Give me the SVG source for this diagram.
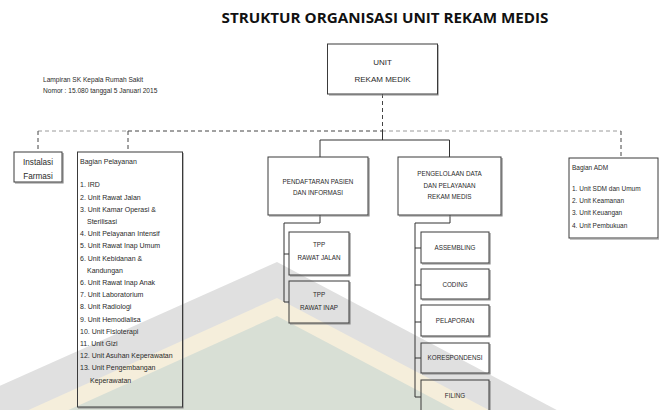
<svg xmlns="http://www.w3.org/2000/svg" width="659" height="410" viewBox="0 0 659 410">
<style>
.box{fill:none;stroke:#3a3a3a;stroke-width:1}
.sh{fill:none;stroke:#8a8a8a;stroke-width:1.2}
.t{font-family:"Liberation Sans",Arial,sans-serif;fill:#2a2a2a}
.ttl{font-family:"Open Sans","Liberation Sans",sans-serif;font-weight:bold;font-size:15px;fill:#111;text-anchor:middle}
.c{text-anchor:middle}
.s8{font-size:8px}
.s7{font-size:7px}
.s6{font-size:6.3px}
.ln{fill:none;stroke:#333;stroke-width:1}
.dd{fill:none;stroke:#444;stroke-width:1;stroke-dasharray:4 3}
.dl{fill:none;stroke:#9a9a9a;stroke-width:1;stroke-dasharray:4 3}
</style>
<rect width="659" height="410" fill="#ffffff"/>
<g id="watermark">
<polygon points="277,262 570,417 -70,417" fill="#e0e0e0"/>
<polygon points="277,298 502,417 13,417" fill="#f5eedb"/>
<polygon points="277,316 468,417 53,417" fill="#d8dfd5"/>
</g>
<text class="ttl" x="385" y="23" textLength="327" lengthAdjust="spacingAndGlyphs">STRUKTUR ORGANISASI UNIT REKAM MEDIS</text>
<g id="note">
<text class="t" x="43" y="82" font-size="6.6">Lampiran SK Kepala Rumah Sakit</text>
<text class="t" x="43" y="92.5" font-size="6.6">Nomor : 15.080 tanggal 5 Januari 2015</text>
</g>
<g id="connectors">
<path class="dd" d="M382.5 94 V130" stroke-dasharray="6 4"/>
<path class="dl" d="M38 131 H128"/>
<path class="dd" d="M128 131 H382"/>
<path class="dl" d="M382 131 H621"/>
<path class="dd" d="M38 131 V150"/>
<path class="dd" d="M128 131 V152"/>
<path class="dd" d="M621 131 V158"/>
<path class="ln" d="M382.5 130 V140 M320 157 V140 H449.5 V157"/>
<path class="ln" d="M320 215 V223 H284 V302 H289 M284 254 H289"/>
<path class="ln" d="M450 215 V223 H415 V397 H421 M415 248 H421 M415 285 H421 M415 322 H421 M415 358 H421"/>
</g>
<g id="unit-rekam-medik">
<path class="sh" d="M438 45 V95 H329"/>
<rect class="box" x="327.5" y="44" width="110" height="50"/>
<text class="t s8 c" x="382.5" y="65">UNIT</text>
<text class="t s8 c" x="382.5" y="81.5">REKAM MEDIK</text>
</g>
<g id="instalasi-farmasi">
<path class="sh" d="M63 153 V183 H15"/>
<rect class="box" x="14" y="152" width="48" height="30"/>
<text class="t c" x="38" y="165" font-size="8.2">Instalasi</text>
<text class="t c" x="38" y="178.5" font-size="8.2">Farmasi</text>
</g>
<g id="bagian-pelayanan">
<path class="sh" d="M183 153 V408 H78"/>
<rect class="box" x="77.5" y="152" width="105" height="255"/>
<text class="t s7" x="80" y="163.5">Bagian Pelayanan</text>
<text class="t s7" x="80" y="187.4">1. IRD</text>
<text class="t s7" x="80" y="199.6">2. Unit Rawat Jalan</text>
<text class="t s7" x="80" y="211.8">3. Unit Kamar Operasi &amp;</text>
<text class="t s7" x="87" y="224">Sterilisasi</text>
<text class="t s7" x="80" y="236.2">4. Unit Pelayanan Intensif</text>
<text class="t s7" x="80" y="248.4">5. Unit Rawat Inap Umum</text>
<text class="t s7" x="80" y="260.6">6. Unit Kebidanan &amp;</text>
<text class="t s7" x="87" y="272.8">Kandungan</text>
<text class="t s7" x="80" y="285">6. Unit Rawat Inap Anak</text>
<text class="t s7" x="80" y="297.2">7. Unit Laboratorium</text>
<text class="t s7" x="80" y="309.4">8. Unit Radiologi</text>
<text class="t s7" x="80" y="321.6">9. Unit Hemodialisa</text>
<text class="t s7" x="80" y="333.8">10. Unit Fisioterapi</text>
<text class="t s7" x="80" y="346">11. Unit Gizi</text>
<text class="t s7" x="80" y="358.2">12. Unit Asuhan Keperawatan</text>
<text class="t s7" x="80" y="370.4">13. Unit Pengembangan</text>
<text class="t s7" x="90" y="382.6">Keperawatan</text>
</g>
<g id="pendaftaran">
<path class="sh" d="M369 158 V216 H269"/>
<rect class="box" x="268" y="157" width="100" height="58"/>
<text class="t s6 c" x="318" y="184.3">PENDAFTARAN PASIEN</text>
<text class="t s6 c" x="318" y="195.3">DAN INFORMASI</text>
</g>
<g id="tpp-rawat-jalan">
<path class="sh" d="M350 233 V276 H290"/>
<rect class="box" x="289" y="232" width="60" height="43"/>
<text class="t s6 c" x="319" y="247.3">TPP</text>
<text class="t s6 c" x="319" y="260.3">RAWAT JALAN</text>
</g>
<g id="tpp-rawat-inap">
<path class="sh" d="M350 282 V324 H290"/>
<rect class="box" x="289" y="281" width="60" height="42"/>
<text class="t s6 c" x="319" y="297.3">TPP</text>
<text class="t s6 c" x="319" y="310.3">RAWAT INAP</text>
</g>
<g id="pengelolaan">
<path class="sh" d="M502 158 V216 H399"/>
<rect class="box" x="398" y="157" width="103" height="58"/>
<text class="t s6 c" x="449.5" y="176.3">PENGELOLAAN DATA</text>
<text class="t s6 c" x="449.5" y="187.8">DAN PELAYANAN</text>
<text class="t s6 c" x="449.5" y="199.3">REKAM MEDIS</text>
</g>
<g id="assembling">
<path class="sh" d="M490 233 V264 H422"/>
<rect class="box" x="421" y="232" width="68" height="31"/>
<text class="t s6 c" x="455" y="250.3">ASSEMBLING</text>
</g>
<g id="coding">
<path class="sh" d="M490 270 V300 H422"/>
<rect class="box" x="421" y="269" width="68" height="30"/>
<text class="t s6 c" x="455" y="287.3">CODING</text>
</g>
<g id="pelaporan">
<path class="sh" d="M490 306 V337 H422"/>
<rect class="box" x="421" y="305" width="68" height="31"/>
<text class="t s6 c" x="455" y="323.3">PELAPORAN</text>
</g>
<g id="korespondensi">
<path class="sh" d="M490 344 V374 H422"/>
<rect class="box" x="421" y="343" width="68" height="30"/>
<text class="t s6 c" x="455" y="360.3">KORESPONDENSI</text>
</g>
<g id="filing">
<path class="sh" d="M490 381 V412"/>
<rect class="box" x="421" y="380" width="68" height="36"/>
<text class="t s6 c" x="455" y="398.3">FILING</text>
</g>
<g id="bagian-adm">
<rect class="box" x="569" y="158" width="89" height="80"/>
<path class="sh" d="M570 239 H659"/>
<text class="t" x="572" y="169.5" font-size="6.5">Bagian ADM</text>
<text class="t" x="572" y="190.5" font-size="6.5">1. Unit SDM dan Umum</text>
<text class="t" x="572" y="203.3" font-size="6.5">2. Unit Keamanan</text>
<text class="t" x="572" y="215.3" font-size="6.5">3. Unit Keuangan</text>
<text class="t" x="572" y="228.3" font-size="6.5">4. Unit Pembukuan</text>
</g>
</svg>
